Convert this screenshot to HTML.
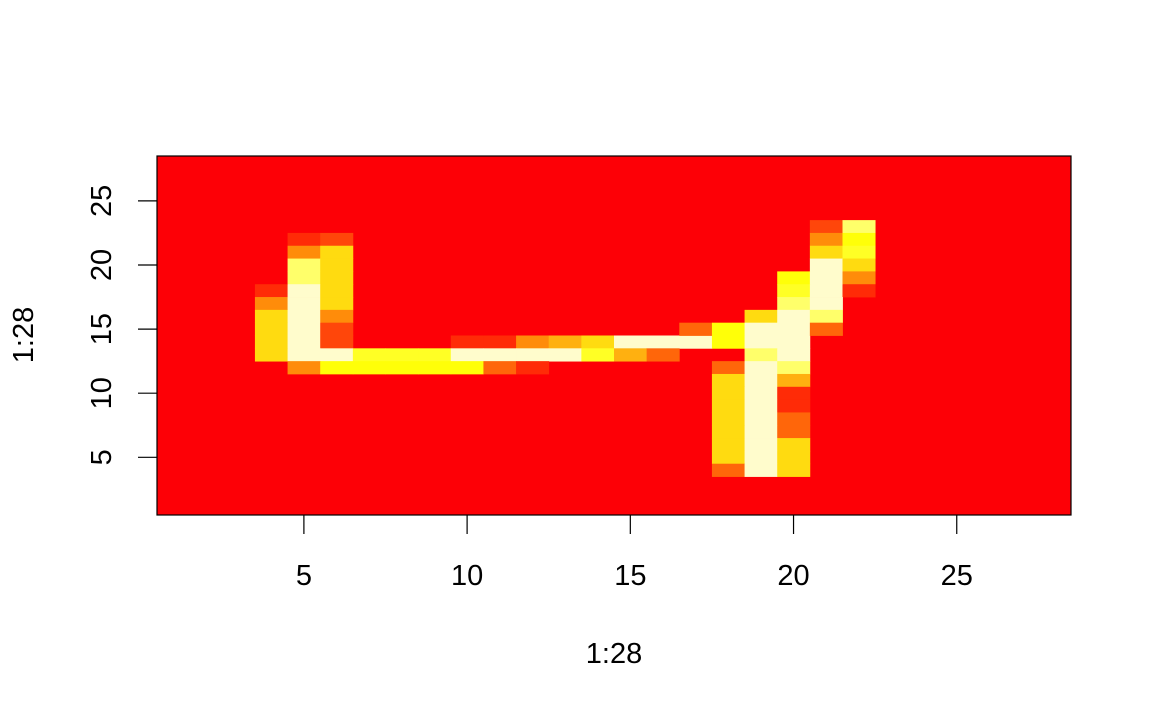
<!DOCTYPE html>
<html><head><meta charset="utf-8"><style>
html,body{margin:0;padding:0;background:#fff;}
svg{display:block;font-family:"Liberation Sans",sans-serif;}
</style></head><body>
<svg id="chart" width="1152" height="711" xmlns="http://www.w3.org/2000/svg">
<g id="cells"></g>
<rect x="157" y="156" width="914" height="359" fill="none" stroke="#000" stroke-width="1.2"/>
<g id="axes"></g>
</svg>
<script>
// palette by intensity level (heat colors)
const palette = ["#fd0006","#fe1806","#ff2b07","#ff460a","#ff660a","#ff8c0a","#ffb010","#ffdb10","#ffff08","#ffff25","#ffff6a","#fffccc"];
const xTicks = [5,10,15,20,25];
const yTicks = [5,10,15,20,25];
// nonzero cells: [col, row, level]
const cellCols = [5,6, 5,6, 5,6, 5,6, 4,5,6, 4,5,6, 4,5,6, 4,5,6,
  4,5,6,10,11,12,13,14,15,16,17,18,19,20,
  4,5,6,7,8,9,10,11,12,13,14,15,16,19,20,
  5,6,7,8,9,10,11,12,18,19,20,
  18,19,20, 18,19,20, 18,19,20, 18,19,20, 18,19,20, 18,19,20, 18,19,20, 18,19,20,
  21,22, 21,22, 21,22, 21,22, 20,21,22, 20,21,22, 20,21, 19,20,21, 17,18,19,20,21];
const cellRows = [22,22, 21,21, 20,20, 19,19, 18,18,18, 17,17,17, 16,16,16, 15,15,15,
  14,14,14,14,14,14,14,14,14,14,14,14,14,14,
  13,13,13,13,13,13,13,13,13,13,13,13,13,13,13,
  12,12,12,12,12,12,12,12,12,12,12,
  11,11,11, 10,10,10, 9,9,9, 8,8,8, 7,7,7, 6,6,6, 5,5,5, 4,4,4,
  23,23, 22,22, 21,21, 20,20, 19,19,19, 18,18,18, 17,17, 16,16,16, 15,15,15,15,15];
const cellLevels = [2,3, 5,7, 10,7, 10,7, 2,11,7, 5,11,7, 7,11,5, 7,11,3,
  7,11,3,2,2,5,6,7,11,11,11,8,11,11,
  7,11,11,9,9,9,11,11,11,11,9,6,4,10,11,
  5,8,8,8,8,8,4,2,4,11,10,
  7,11,6, 7,11,2, 7,11,2, 7,11,4, 7,11,4, 7,11,7, 7,11,7, 4,11,7,
  3,10, 5,8, 7,9, 11,7, 8,11,5, 9,11,2, 10,11, 7,11,10, 4,8,11,11,4];

const X0=157,X1=1071,Y0=515,Y1=156,N=28;
const cw=(X1-X0)/N, ch=(Y0-Y1)/N;
const xs=v=>X0+(v-0.5)*cw;           // center of column v
const ys=v=>Y0-(v-0.5)*ch;           // center of row v
const NS="http://www.w3.org/2000/svg";
const cells=document.getElementById('cells');
const bg=document.createElementNS(NS,'rect');
bg.setAttribute('x',X0);bg.setAttribute('y',Y1);bg.setAttribute('width',X1-X0);bg.setAttribute('height',Y0-Y1);bg.setAttribute('fill',palette[0]);


cells.appendChild(bg);
for(let i=0;i<cellCols.length;i++){
  const r=document.createElementNS(NS,'rect');
  r.setAttribute('x',(xs(cellCols[i])-cw/2).toFixed(2));
  r.setAttribute('y',(ys(cellRows[i])-ch/2).toFixed(2));
  r.setAttribute('width',(cw+0.4).toFixed(2));
  r.setAttribute('height',(ch+0.4).toFixed(2));
  r.setAttribute('fill',palette[cellLevels[i]]);
  
  
  cells.appendChild(r);
}
const axes=document.getElementById('axes');
function add(tag,attrs,text){const e=document.createElementNS(NS,tag);for(const k in attrs)e.setAttribute(k,attrs[k]);if(text!==undefined)e.textContent=text;axes.appendChild(e);return e;}
xTicks.forEach(t=>{
  const l=add('line',{x1:xs(t),x2:xs(t),y1:515,y2:534,stroke:'#000','stroke-width':1.2});
  
  
  const tx=add('text',{x:xs(t),y:585,'font-size':29,'text-anchor':'middle'},t);
  
  
});
yTicks.forEach(t=>{
  const l=add('line',{x1:138,x2:157,y1:ys(t),y2:ys(t),stroke:'#000','stroke-width':1.2});
  
  
  const tx=add('text',{x:0,y:0,'font-size':29,'text-anchor':'middle',transform:`translate(111,${ys(t)}) rotate(-90)`},t);
  
  
});
const xl=add('text',{x:614,y:663,'font-size':29,'text-anchor':'middle'},'1:28');


const yl=add('text',{x:0,y:0,'font-size':29,'text-anchor':'middle',transform:'translate(33,335) rotate(-90)'},'1:28');


</script>
</body></html>
